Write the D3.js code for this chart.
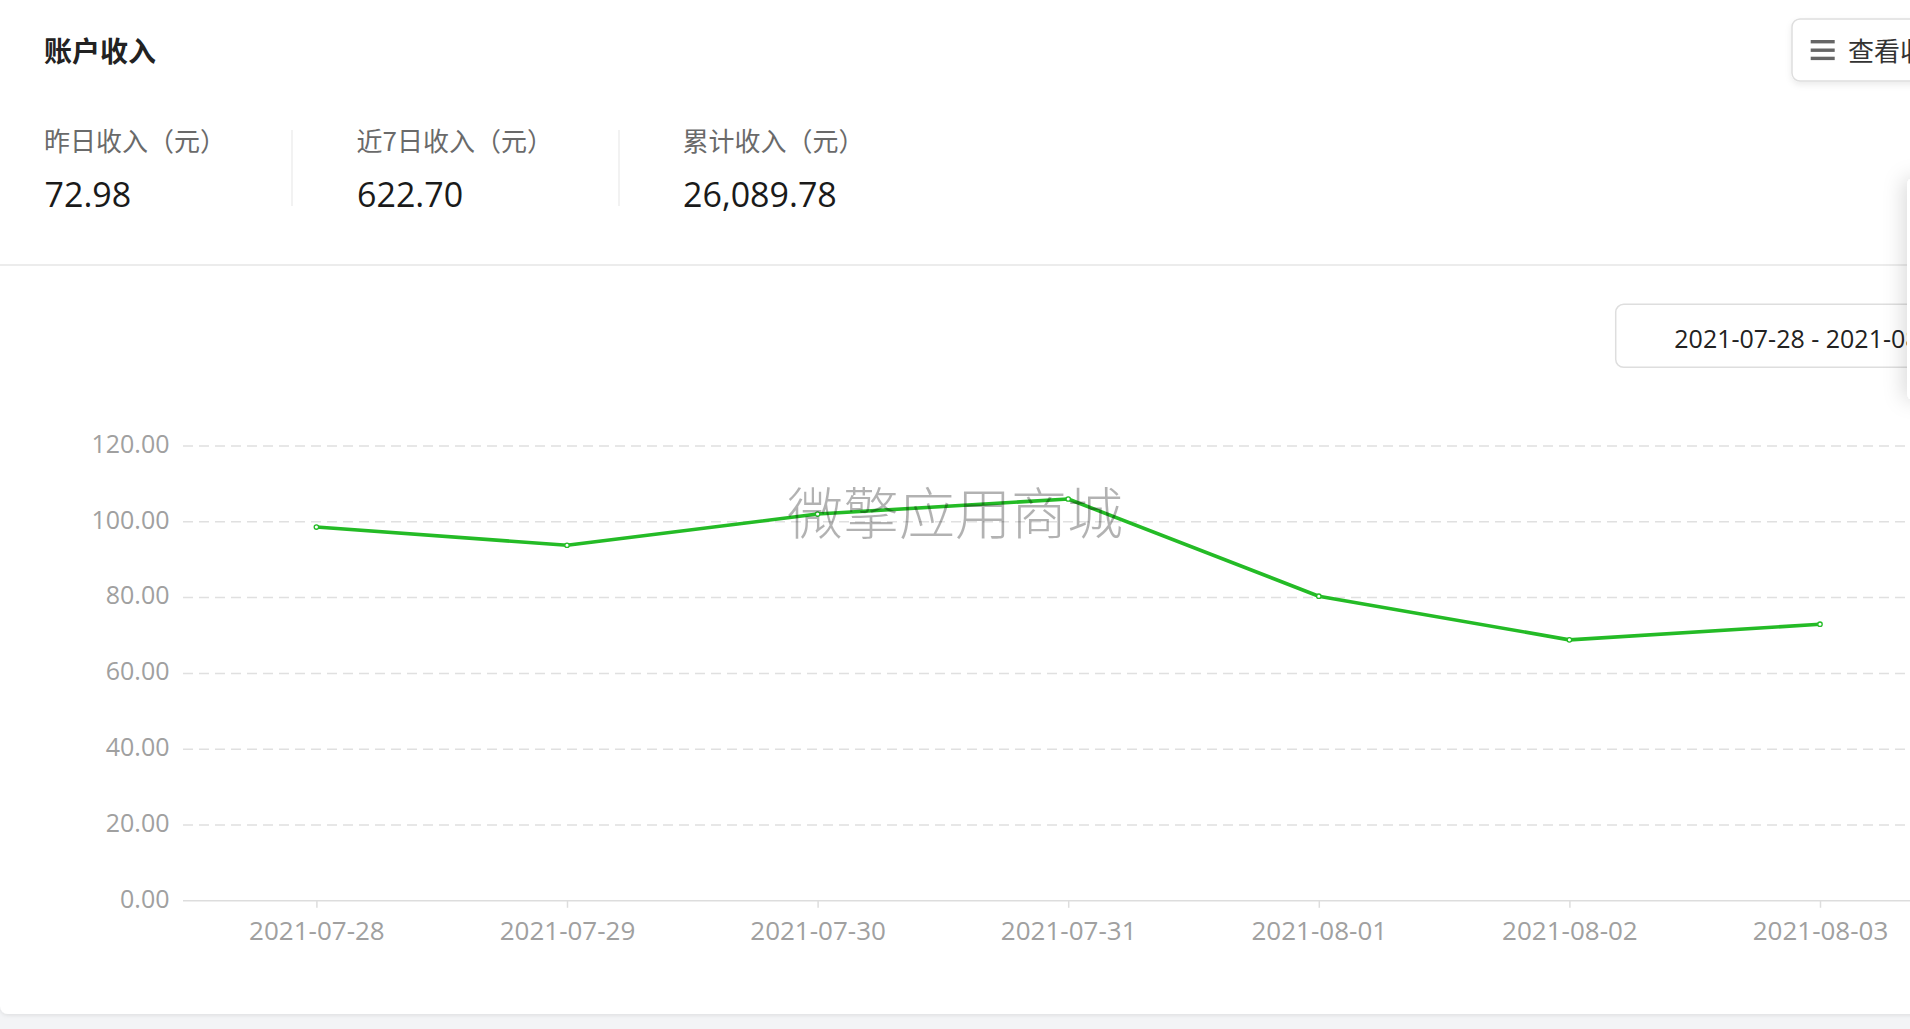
<!DOCTYPE html>
<html>
<head>
<meta charset="utf-8">
<script src="https://cdn.jsdelivr.net/npm/d3@7"></script>
<style>
  html, body { margin: 0; padding: 0; background: #f3f4f6; overflow: hidden; }
  svg { display: block; }
  text { font-family: "Open Sans", "Noto Sans CJK SC", sans-serif; }
  .cjk { font-family: "Noto Sans CJK SC", "Open Sans", sans-serif; }
</style>
</head>
<body>
<svg id="chart" width="1910" height="1029"></svg>
<script>
// ---- data ----
const dates = ["2021-07-28", "2021-07-29", "2021-07-30", "2021-07-31", "2021-08-01", "2021-08-02", "2021-08-03"];
const income = [98.62, 93.81, 102.05, 106.02, 80.37, 68.85, 72.98];
const yTicks = [0, 20, 40, 60, 80, 100, 120];
const summaryLabels = ["昨日收入（元）", "近7日收入（元）", "累计收入（元）"];
const summaryValues = ["72.98", "622.70", "26,089.78"];
const titleText = "账户收入";
const buttonText = "查看收入明细";
const rangeText = "2021-07-28 - 2021-08-03";
const watermarkText = "微擎应用商城";

// ---- layout ----
const W = 1910, H = 1029;
const svg = d3.select("#chart");
const defs = svg.append("defs");

const f1 = defs.append("filter").attr("id", "cardShadow").attr("x", "-5%").attr("y", "-5%").attr("width", "110%").attr("height", "110%");
f1.append("feDropShadow").attr("dx", 0).attr("dy", 1).attr("stdDeviation", 2).attr("flood-color", "#000").attr("flood-opacity", 0.10);
const f2 = defs.append("filter").attr("id", "btnShadow").attr("x", "-20%").attr("y", "-30%").attr("width", "140%").attr("height", "170%");
f2.append("feDropShadow").attr("dx", 0).attr("dy", 3).attr("stdDeviation", 3).attr("flood-color", "#000").attr("flood-opacity", 0.08);
const f3 = defs.append("filter").attr("id", "panelShadow").attr("x", "-100%").attr("y", "-30%").attr("width", "300%").attr("height", "160%");
f3.append("feDropShadow").attr("dx", -4).attr("dy", 0).attr("stdDeviation", 10).attr("flood-color", "#000").attr("flood-opacity", 0.14);

// card
svg.append("rect").attr("x", 0).attr("y", -20).attr("width", W + 40).attr("height", 1034)
  .attr("rx", 8).attr("fill", "#fff").attr("filter", "url(#cardShadow)");

// header
svg.append("text").attr("class", "cjk").attr("x", 44).attr("y", 62)
  .attr("font-size", 28).attr("font-weight", 700).attr("fill", "#222").text(titleText);

// top-right button
const btn = svg.append("g");
btn.append("rect").attr("x", 1792).attr("y", 19).attr("width", 300).attr("height", 62).attr("rx", 8)
  .attr("fill", "#fff").attr("stroke", "#dedede").attr("stroke-width", 1.5).attr("filter", "url(#btnShadow)");
[40, 48.5, 56.7].forEach(yy => {
  btn.append("rect").attr("x", 1810.7).attr("y", yy).attr("width", 24).attr("height", 3.4).attr("fill", "#666");
});
btn.append("text").attr("class", "cjk").attr("x", 1848).attr("y", 61).attr("font-size", 26).attr("fill", "#333").text(buttonText);

// summary stats
const statX = [44, 356.5, 682.5];
summaryLabels.forEach((lab, i) => {
  svg.append("text").attr("class", "cjk").attr("x", statX[i]).attr("y", 150.5)
    .attr("font-size", 26).attr("fill", "#6a6a6a").text(lab);
  svg.append("text").attr("x", statX[i] + 0.5).attr("y", 206.7)
    .attr("font-size", 34).attr("font-weight", 500).attr("fill", "#1a1a1a").text(summaryValues[i]);
});
[292, 619].forEach(xx => {
  svg.append("line").attr("x1", xx).attr("x2", xx).attr("y1", 130).attr("y2", 206)
    .attr("stroke", "#eeeeee").attr("stroke-width", 1.5);
});

// separator
svg.append("line").attr("x1", 0).attr("x2", W).attr("y1", 265).attr("y2", 265)
  .attr("stroke", "#ececec").attr("stroke-width", 2);

// date range box
svg.append("rect").attr("x", 1615.7).attr("y", 304.3).attr("width", 400).attr("height", 63).attr("rx", 8)
  .attr("fill", "#fff").attr("stroke", "#dedede").attr("stroke-width", 1.5);
svg.append("text").attr("x", 1674.3).attr("y", 347.5).attr("font-size", 25).attr("fill", "#222").text(rangeText);

// ---- chart ----
const plotLeft = 183, plotRight = W;
const x = d3.scalePoint().domain(dates).range([316.4, 1820]);
const y = d3.scaleLinear().domain([0, 120]).range([900.8, 446]);

// gridlines
svg.append("g").selectAll("line").data(yTicks.filter(d => d !== 0)).join("line")
  .attr("x1", plotLeft).attr("x2", plotRight)
  .attr("y1", d => y(d)).attr("y2", d => y(d))
  .attr("stroke", "#e0e0e0").attr("stroke-width", 1.5).attr("stroke-dasharray", "10,6");

// y axis labels
const yAxis = svg.append("g").attr("transform", `translate(${plotLeft},0)`)
  .call(d3.axisLeft(y).tickValues(yTicks).tickFormat(d3.format(".2f")).tickSize(0).tickPadding(14));
yAxis.select(".domain").remove();
yAxis.selectAll("text").attr("font-size", 25).attr("fill", "#a0a0a0")
  .attr("font-family", "'Open Sans', sans-serif").attr("dy", 0).attr("y", 6.2).attr("x", -13.5);

// x axis
const xAxis = svg.append("g").attr("transform", `translate(0,${y(0)})`)
  .call(d3.axisBottom(x).tickSize(7).tickPadding(0));
xAxis.select(".domain").remove();
xAxis.selectAll(".tick line").attr("stroke", "#dddddd").attr("stroke-width", 1.5);
xAxis.selectAll("text").attr("font-size", 26).attr("fill", "#a0a0a0")
  .attr("font-family", "'Open Sans', sans-serif").attr("dy", 0).attr("y", 39.5);
svg.append("line").attr("x1", plotLeft).attr("x2", plotRight).attr("y1", y(0)).attr("y2", y(0))
  .attr("stroke", "#dddddd").attr("stroke-width", 1.5);

// line series
const pts = dates.map((d, i) => [x(d), y(income[i])]);
svg.append("path").attr("d", d3.line()(pts))
  .attr("fill", "none").attr("stroke", "#24bb26").attr("stroke-width", 3.6).attr("stroke-linejoin", "round");
svg.append("g").selectAll("circle").data(pts).join("circle")
  .attr("cx", d => d[0]).attr("cy", d => d[1]).attr("r", 2.2)
  .attr("fill", "#fff").attr("stroke", "#24bb26").attr("stroke-width", 1.3);

// watermark
svg.append("text").attr("class", "cjk").attr("x", 955).attr("y", 534).attr("text-anchor", "middle")
  .attr("font-size", 56).attr("font-weight", 300).attr("fill", "rgba(0,0,0,0.3)").text(watermarkText);

// right floating panel edge
svg.append("rect").attr("x", 1907).attr("y", 178).attr("width", 120).attr("height", 222).attr("rx", 6)
  .attr("fill", "#fff").attr("filter", "url(#panelShadow)");
</script>
</body>
</html>
